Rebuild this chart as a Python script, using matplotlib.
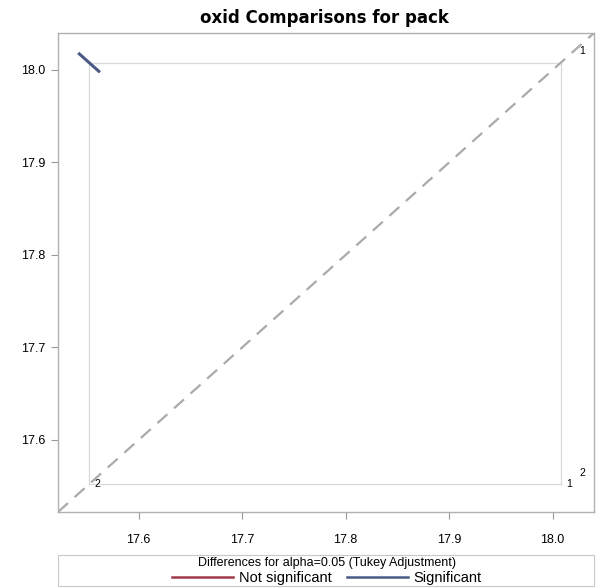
import numpy as np
import matplotlib.pyplot as plt
from matplotlib.lines import Line2D
from matplotlib.patches import Rectangle

plt.rcParams['font.family'] = ['Liberation Sans', 'DejaVu Sans']

# LS-means of oxid for each pack level
groups = ['1', '2']
means = [18.008, 17.552]
# pairwise difference (1 - 2) and its Tukey CI half width
pair_diff = 0.456
ci_half = 0.021
significant = True

axis_lim = (17.522, 18.040)
ticks = [17.6, 17.7, 17.8, 17.9, 18.0]

c_sig = '#4B5A84'
c_nsig = '#A23A4E'
c_ref = '#D9D9D9'

fig = plt.figure(figsize=(6.0, 5.88), dpi=100)
ax = fig.add_axes([0.0967, 0.1293, 0.8933, 0.8146])

lo, hi = min(means), max(means)

# reference lines forming the box between the means
for m in means:
    ax.plot([m, m], [lo, hi], color=c_ref, lw=0.9, zorder=1)
    ax.plot([lo, hi], [m, m], color=c_ref, lw=0.9, zorder=1)

# diagonal
ax.plot(axis_lim, axis_lim, color='#AAAAAA', lw=1.6, ls=(0, (6, 4)), zorder=2)

# diffogram segment for the pair, centred at (mean2, mean1)
x0, y0 = means[1], means[0]
d = ci_half / 2
ax.plot([x0 - d, x0 + d], [y0 + d, y0 - d], color=c_sig if significant else c_nsig,
        lw=2.2, solid_capstyle='butt', zorder=3)

# group labels
for g, m in zip(groups, means):
    ax.annotate(g, xy=(m, lo), xytext=(6, 0), textcoords='offset points',
                ha='center', va='center', fontsize=7.5)
    ax.annotate(g, xy=(0.978, m), xycoords=('axes fraction', 'data'),
                xytext=(0, 8), textcoords='offset points',
                ha='center', va='center', fontsize=7.5)

ax.set_xlim(axis_lim)
ax.set_ylim(axis_lim)
ax.set_xticks(ticks)
ax.set_yticks(ticks)
ax.set_xticklabels([f'{t:.1f}' for t in ticks])
ax.set_yticklabels([f'{t:.1f}' for t in ticks])
ax.tick_params(labelsize=9, length=5, width=0.8, color='#999999', pad=4)
ax.tick_params(axis='x', pad=11)
for s in ax.spines.values():
    s.set_color('#B0B0B0')
    s.set_linewidth(1.0)

fig.text(0.54, 0.97, 'oxid Comparisons for pack', ha='center', va='center',
         fontsize=12, fontweight='bold', family='DejaVu Sans')

# legend box
fig.patches.append(Rectangle((0.0967, 0.004), 0.8933, 0.052, transform=fig.transFigure,
                             facecolor='white', edgecolor='#C8C8C8', lw=0.8))
handles = [Line2D([], [], color=c_nsig, lw=1.8), Line2D([], [], color=c_sig, lw=1.8)]
fig.legend(handles, ['Not significant', 'Significant'], loc='center',
           bbox_to_anchor=(0.545, 0.029), ncol=2, frameon=False, fontsize=10.5,
           title='Differences for alpha=0.05 (Tukey Adjustment)', title_fontsize=9,
           handlelength=4.2, columnspacing=1.0, handletextpad=0.4,
           borderpad=0.1, labelspacing=0.1)

fig.savefig('out.png', dpi=100)
